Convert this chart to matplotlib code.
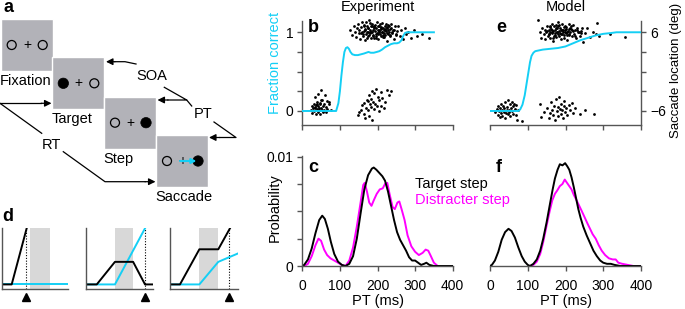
import numpy as np
import matplotlib
matplotlib.use('Agg')
import matplotlib.pyplot as plt
from matplotlib.patches import Rectangle, Circle

plt.rcParams['font.family'] = ['Liberation Sans', 'DejaVu Sans']

CYAN = '#14cff5'
MAGENTA = '#ff00ff'
SPINE = '#555555'
SQ_GRAY = '#b2b2b8'
FS = 10

# ---- data -------------------------------------------------------------
pt_ticks = [0, 100, 200, 300, 400]

# saccade end points (PT ms, saccade location deg), experiment
b_upper = [(128, 6.4), (133, 5.6), (137, 6.9), (140, 6.1), (143, 5.3), (146, 6.6), (148, 7.2), (150, 5.9),
           (152, 6.3), (154, 5.0), (156, 6.8), (158, 6.0), (160, 7.5), (161, 5.5), (163, 6.2), (165, 6.9),
           (166, 4.8), (168, 6.5), (170, 5.8), (171, 7.0), (173, 6.1), (174, 5.4), (176, 6.7), (177, 7.8),
           (179, 5.9), (180, 6.3), (182, 5.2), (183, 6.9), (185, 6.0), (186, 7.3), (187, 5.6), (189, 6.4),
           (190, 6.8), (191, 5.1), (193, 7.1), (194, 6.2), (195, 5.7), (197, 6.6), (198, 7.6), (199, 5.9),
           (201, 6.3), (202, 4.9), (204, 6.9), (205, 6.0), (206, 7.2), (208, 5.5), (209, 6.5), (211, 6.1),
           (212, 7.4), (214, 5.3), (215, 6.7), (217, 5.9), (218, 6.3), (220, 7.0), (221, 5.6), (223, 6.2),
           (224, 4.7), (226, 6.8), (228, 5.8), (229, 7.1), (231, 6.0), (233, 5.4), (235, 6.6), (237, 7.3),
           (239, 5.9), (241, 6.4), (243, 5.0), (246, 6.9), (249, 5.7), (252, 6.2), (255, 7.0), (259, 5.5),
           (263, 6.3), (268, 4.9), (272, 6.6), (277, 5.8), (282, 6.1), (288, 5.2), (296, 6.4), (305, 5.5),
           (318, 5.7), (336, 5.1), (162, 5.8), (167, 6.3), (172, 5.1), (175, 6.6), (178, 5.6), (181, 7.4),
           (184, 6.1), (188, 5.4), (192, 6.7), (196, 5.2), (200, 7.0), (203, 6.4), (207, 5.7), (210, 6.8),
           (213, 6.0), (216, 5.3), (219, 6.5), (222, 7.2), (225, 5.9), (227, 6.3), (230, 6.9), (234, 5.6),
           (238, 6.1), (170, 7.6), (185, 6.9), (195, 5.5), (205, 6.2), (215, 5.6), (225, 6.6), (180, 6.0),
           (190, 7.0), (200, 5.8), (210, 6.6), (220, 6.4), (165, 7.1), (175, 6.0), (245, 6.3), (250, 5.6),
           (157, 5.9), (232, 6.5)]
b_lower_left = [(22, -5.8), (25, -5.2), (27, -6.3), (29, -5.5), (30, -4.9), (32, -6.0), (33, -5.4), (35, -3.9),
                (36, -6.5), (37, -5.1), (38, -5.7), (40, -4.6), (41, -6.1), (42, -5.3), (43, -3.4), (45, -5.9),
                (46, -4.8), (47, -6.4), (48, -5.0), (50, -5.6), (51, -2.8), (52, -5.8), (53, -4.4), (55, -6.2),
                (56, -5.3), (57, -4.9), (58, -5.9), (60, -3.6), (62, -5.4), (63, -6.1), (65, -4.5), (67, -5.7),
                (70, -5.0), (72, -4.7), (75, -5.8), (44, -5.5), (39, -5.0), (49, -4.3), (54, -6.0), (34, -5.6)]
b_lower_mid = [(148, -6.6), (152, -6.2), (156, -5.8), (160, -5.1), (163, -6.4), (165, -4.8), (168, -7.0),
               (170, -5.5), (172, -4.3), (175, -5.9), (177, -3.6), (178, -6.7), (180, -5.0), (182, -4.1),
               (184, -5.4), (186, -2.9), (188, -4.6), (190, -5.7), (192, -3.3), (194, -4.9), (196, -2.6),
               (198, -5.2), (200, -3.8), (203, -4.4), (205, -6.0), (208, -3.1), (210, -5.3), (213, -4.0),
               (216, -5.6), (220, -4.7), (225, -2.8), (230, -3.5), (236, -3.0), (185, -7.3), (174, -4.5)]

# model
e_upper = [(128, 7.8), (132, 6.0), (136, 5.2), (139, 6.7), (142, 5.8), (145, 6.4), (147, 4.9), (149, 6.1),
           (151, 7.0), (153, 5.5), (155, 6.3), (157, 5.7), (158, 6.8), (160, 5.1), (162, 6.5), (163, 7.3),
           (165, 5.9), (166, 6.2), (168, 4.6), (169, 6.9), (171, 5.6), (172, 6.4), (174, 7.1), (175, 5.3),
           (177, 6.0), (178, 6.7), (180, 5.8), (181, 7.5), (183, 6.2), (184, 5.4), (186, 6.6), (187, 5.0),
           (189, 6.3), (190, 7.2), (192, 5.7), (193, 6.1), (195, 6.8), (196, 5.2), (198, 6.4), (199, 7.0),
           (201, 5.9), (202, 6.5), (204, 4.8), (206, 6.2), (208, 7.3), (210, 5.6), (212, 6.0), (214, 6.9),
           (216, 5.4), (218, 6.3), (220, 7.1), (222, 5.8), (225, 6.4), (228, 5.1), (231, 6.7), (234, 6.0),
           (238, 5.5), (242, 6.2), (247, 4.5), (252, 5.9), (258, 6.6), (265, 5.3), (272, 6.1), (280, 5.7),
           (288, 5.4), (318, 5.7), (358, 5.3), (283, 7.4), (150, 6.2), (155, 5.8), (160, 6.9), (165, 6.1),
           (170, 5.5), (175, 6.6), (180, 7.0), (185, 5.9), (190, 6.3), (195, 5.6), (200, 6.8), (205, 6.0),
           (210, 5.7), (215, 6.5), (220, 6.2), (225, 5.4), (163, 6.4), (173, 5.9), (183, 7.1), (193, 6.3),
           (203, 5.6), (213, 6.7), (178, 6.1), (188, 5.8), (198, 6.0), (208, 6.5), (168, 5.2), (158, 6.1),
           (230, 6.3), (240, 5.9), (245, 6.6), (236, 6.0)]
e_lower_left = [(14, -6.2), (18, -5.7), (20, -6.6), (22, -5.3), (24, -6.0), (26, -6.9), (27, -5.5), (29, -6.3),
                (30, -4.9), (32, -5.9), (33, -6.7), (35, -5.2), (36, -6.1), (38, -5.6), (39, -7.0), (41, -4.6),
                (42, -6.3), (44, -5.4), (45, -5.9), (47, -6.5), (48, -4.3), (50, -5.8), (51, -6.2), (53, -5.0),
                (54, -6.8), (56, -5.5), (57, -4.7), (59, -6.0), (61, -5.3), (62, -6.4), (64, -4.9), (66, -5.7),
                (68, -6.6), (70, -5.1), (72, -7.4), (75, -5.8), (84, -7.6)]
e_lower_mid = [(132, -5.0), (134, -6.9), (142, -6.2), (150, -5.5), (155, -7.1), (158, -6.3), (162, -4.7),
               (165, -5.9), (167, -6.6), (170, -5.2), (172, -7.3), (175, -4.2), (177, -6.0), (179, -5.4),
               (181, -6.8), (183, -3.8), (185, -5.7), (187, -6.4), (189, -4.9), (191, -5.9), (193, -7.0),
               (195, -5.3), (197, -4.5), (199, -6.2), (202, -5.6), (205, -6.6), (208, -5.1), (212, -5.9),
               (216, -4.8), (220, -6.3), (226, -5.5), (238, -6.5), (252, -5.8), (276, -6.4)]

# fraction correct vs PT
b_frac_pt = [0, 90, 96, 100, 104, 108, 112, 116, 120, 124, 128, 133, 140, 148, 156, 164, 170, 176, 182,
             190, 198, 205, 212, 220, 228, 236, 244, 252, 258, 264, 268, 273, 278, 350]
b_frac = [0, 0, 0.10, 0.25, 0.45, 0.62, 0.75, 0.80, 0.81, 0.79, 0.75, 0.72, 0.71, 0.71, 0.72, 0.73, 0.74,
          0.75, 0.74, 0.74, 0.75, 0.76, 0.78, 0.81, 0.83, 0.85, 0.86, 0.86, 0.87, 0.90, 0.95, 0.99, 1.0, 1.0]
e_frac_pt = [0, 75, 80, 86, 92, 97, 102, 106, 110, 115, 120, 140, 160, 180, 200, 220, 240, 260, 280, 300,
             320, 335, 400]
e_frac = [0, 0, 0.02, 0.08, 0.20, 0.35, 0.50, 0.62, 0.70, 0.74, 0.76, 0.78, 0.79, 0.80, 0.82, 0.86, 0.90,
          0.93, 0.96, 0.98, 0.99, 1.0, 1.0]

# PT distributions
c_target_pt = [0, 5, 15, 25, 35, 45, 53, 60, 68, 76, 85, 95, 105, 115, 125, 135, 145, 155, 165, 175, 185,
               190, 197, 205, 213, 220, 228, 236, 244, 252, 260, 268, 276, 284, 292, 300, 308, 316, 324,
               330, 338, 350, 400]
c_target = [0, 0.0001, 0.0006, 0.0016, 0.0030, 0.0042, 0.0046, 0.0043, 0.0034, 0.0022, 0.0011, 0.0004,
            0.0001, 0.0, 0.0002, 0.0009, 0.0025, 0.0048, 0.0070, 0.0083, 0.0089, 0.0090, 0.0088, 0.0085,
            0.0082, 0.0078, 0.0068, 0.0055, 0.0042, 0.0031, 0.0024, 0.0019, 0.0014, 0.0008, 0.0005, 0.0005,
            0.0003, 0.0001, 0.0002, 0.0003, 0.0001, 0.0, 0.0]
c_distr_pt = [5, 15, 25, 35, 43, 50, 58, 66, 75, 85, 95, 105, 115, 125, 135, 145, 155, 162, 166, 172, 178,
              184, 190, 198, 206, 214, 220, 226, 232, 240, 246, 253, 258, 264, 272, 280, 290, 300, 310, 320,
              328, 335, 342, 350, 360]
c_distr = [0, 0.0002, 0.0009, 0.0019, 0.0025, 0.0023, 0.0015, 0.0010, 0.0007, 0.0005, 0.0003, 0.0001, 0.0,
           0.0005, 0.0017, 0.0036, 0.0058, 0.0074, 0.0076, 0.0068, 0.0058, 0.0055, 0.0060, 0.0066, 0.0070,
           0.0071, 0.0075, 0.0076, 0.0066, 0.0054, 0.0052, 0.0058, 0.0059, 0.0052, 0.0042, 0.0028, 0.0018,
           0.0013, 0.0010, 0.0012, 0.0015, 0.0014, 0.0009, 0.0003, 0.0]
f_target_pt = [0, 5, 13, 22, 31, 40, 49, 57, 66, 75, 84, 92, 100, 106, 115, 124, 133, 141, 150, 159, 166,
               172, 179, 185, 192, 199, 205, 210, 216, 222, 228, 234, 240, 247, 256, 265, 274, 283, 292,
               300, 310, 320, 330, 345, 400]
f_target = [0, 0.0001, 0.0005, 0.0013, 0.0024, 0.0031, 0.0034, 0.0032, 0.0026, 0.0017, 0.0009, 0.0004,
            0.0001, 0.0, 0.0002, 0.0006, 0.0014, 0.0025, 0.0040, 0.0057, 0.0070, 0.0080, 0.0088, 0.0093,
            0.0092, 0.0094, 0.0091, 0.0088, 0.0081, 0.0072, 0.0062, 0.0052, 0.0044, 0.0036, 0.0028,
            0.0021, 0.0014, 0.0009, 0.0005, 0.0003, 0.0002, 0.0002, 0.0001, 0.0, 0.0]
f_distr_pt = [105, 115, 124, 133, 141, 150, 158, 165, 172, 178, 185, 192, 198, 204, 210, 216, 222, 228,
              235, 242, 250, 258, 265, 272, 280, 288, 296, 305, 315, 325, 333, 340, 350, 365, 380, 400]
f_distr = [0, 0.0001, 0.0004, 0.0011, 0.0022, 0.0037, 0.0050, 0.0060, 0.0066, 0.0069, 0.0073, 0.0075,
           0.0079, 0.0076, 0.0073, 0.0070, 0.0065, 0.0061, 0.0056, 0.0051, 0.0045, 0.0039, 0.0034, 0.0029,
           0.0025, 0.0019, 0.0014, 0.0010, 0.0007, 0.0006, 0.0006, 0.0003, 0.0002, 0.0001, 0.0, 0.0]

# panel d schematic traces (normalised time, normalised activity)
d_black = [([0, 0.15, 0.375], [0.08, 0.08, 1.0]),
           ([0, 0.16, 0.43, 0.70, 0.877, 1.0], [0.08, 0.08, 0.45, 0.45, 0.08, 0.08]),
           ([0, 0.146, 0.43, 0.707, 0.878], [0.08, 0.08, 0.656, 0.656, 1.0])]
d_cyan = [([0, 1.0], [0.08, 0.08]),
          ([0, 0.43, 0.877], [0.08, 0.08, 1.0]),
          ([0, 0.43, 0.707, 1.0], [0.08, 0.08, 0.45, 0.59])]
d_gray = [(0.425, 0.725), (0.43, 0.70), (0.43, 0.707)]
d_sacc = [0.365, 0.877, 0.868]

# ---- figure -------------------------------------------------------------
W, H = 685.0, 309.0
fig = plt.figure(figsize=(W / 100, H / 100), dpi=100)


def px_axes(x0, y0, x1, y1):
    return fig.add_axes([x0 / W, 1 - y1 / H, (x1 - x0) / W, (y1 - y0) / H])


def ftext(x, y, s, **kw):
    kw.setdefault('ha', 'center')
    kw.setdefault('va', 'center')
    kw.setdefault('fontsize', FS)
    fig.text(x / W, 1 - y / H, s, **kw)


def style(ax, left=True, right=False):
    for side in ['top', 'right', 'left', 'bottom']:
        ax.spines[side].set_visible(False)
    ax.spines['bottom'].set_visible(True)
    if left:
        ax.spines['left'].set_visible(True)
    if right:
        ax.spines['right'].set_visible(True)
    for sp in ax.spines.values():
        sp.set_color(SPINE)
        sp.set_linewidth(1)
    ax.tick_params(direction='out', length=3.5, width=1, color=SPINE, labelsize=FS)
    ax.tick_params(axis='x', pad=5.5)
    ax.tick_params(axis='y', pad=3)
    ax.patch.set_alpha(0)


# panel a: task schematic
ax_a = px_axes(0, 0, 240, 205)
ax_a.set_xlim(0, 240)
ax_a.set_ylim(205, 0)
ax_a.axis('off')

squares = [(0.7, 19, 'Fixation', 'none'), (52.3, 57.3, 'Target', 'left'),
           (104, 96.7, 'Step', 'right'), (156, 135, 'Saccade', 'right')]
for sx, sy, label, filled in squares:
    ax_a.add_patch(Rectangle((sx, sy), 52, 52, facecolor=SQ_GRAY, edgecolor='white', lw=1))
    cy = sy + 26
    for cx, side in [(sx + 11, 'left'), (sx + 42, 'right')]:
        if filled == side:
            ax_a.add_patch(Circle((cx, cy), 5.2, facecolor='k', edgecolor='k', lw=0.5))
        else:
            ax_a.add_patch(Circle((cx, cy), 4.5, facecolor='none', edgecolor='k', lw=0.9))
    ax_a.text(sx + 26.5, cy, '+', ha='center', va='center', fontsize=10)
    ax_a.text(sx - 0.5, sy + 62, label, ha='left', va='center', fontsize=10.5)

ax_a.annotate('', xy=(196.5, 161), xytext=(180, 161),
              arrowprops=dict(arrowstyle='-|>', color=CYAN, lw=1.5, mutation_scale=7, shrinkA=0, shrinkB=0))


def arrow(x0, y0, x1, y1):
    ax_a.annotate('', xy=(x1, y1), xytext=(x0, y0),
                  arrowprops=dict(arrowstyle='-|>', color='k', lw=0.9, mutation_scale=10,
                                  shrinkA=0, shrinkB=0))


lk = dict(color='k', lw=0.9)
# SOA
ax_a.plot([136, 125, 115], [64, 61.7, 61.7], **lk)
arrow(115, 61.7, 106, 61.7)
ax_a.plot([164.3, 186.7, 168], [87.3, 100, 100], **lk)
arrow(168, 100, 157.5, 100)
ax_a.text(151.7, 76, 'SOA', ha='center', va='center', fontsize=10.5)
# PT
ax_a.plot([191.7, 186.7], [106, 100], **lk)
ax_a.plot([214, 236, 220], [122, 137.5, 137.5], **lk)
arrow(220, 137.5, 209, 137.5)
ax_a.text(203.3, 114, 'PT', ha='center', va='center', fontsize=10.5)
# RT
ax_a.plot([0, 41], [103.3, 103.3], **lk)
arrow(41, 103.3, 51.5, 103.3)
ax_a.plot([0, 41.7], [103.3, 133.3], **lk)
ax_a.plot([63.3, 105, 145], [151.7, 181.7, 181.7], **lk)
arrow(145, 181.7, 155.5, 181.7)
ax_a.text(51.7, 145, 'RT', ha='center', va='center', fontsize=10.5)

# panel d
d_boxes = [(1.7, 68.3), (86, 153.3), (170, 238.3)]
for i, (x0, x1) in enumerate(d_boxes):
    ax = px_axes(x0, 228.3, x1, 289.3)
    style(ax)
    ax.set_xticks([])
    ax.set_yticks([])
    ax.set_xlim(0, 1)
    ax.set_ylim(0, 1)
    ax.axvspan(d_gray[i][0], d_gray[i][1], color='#d8d8d8', lw=0)
    ax.axvline(d_sacc[i], color='k', ls=(0, (1, 1.5)), lw=0.8)
    ax.plot(d_cyan[i][0], d_cyan[i][1], color=CYAN, lw=1.4)
    ax.plot(d_black[i][0], d_black[i][1], color='k', lw=1.4)
    ax.plot([d_sacc[i]], [-0.12], marker='^', ms=5.5, color='k', clip_on=False)

# panels b / e: saccade location and fraction correct
ylim_be = (-0.178, 1.147)
frac_ticks = [0, 0.25, 0.5, 0.75, 1.0]

ax_b = px_axes(302.3, 20.7, 452.7, 125)
style(ax_b)
for cl in [b_upper, b_lower_left, b_lower_mid]:
    pts = np.array(cl, dtype=float)
    ax_b.scatter(pts[:, 0], (pts[:, 1] + 6) / 12, s=4, c='k', lw=0, clip_on=False)
ax_b.plot(b_frac_pt, b_frac, color=CYAN, lw=1.4, zorder=3)
ax_b.set_xlim(0, 400)
ax_b.set_ylim(*ylim_be)
ax_b.set_xticks(pt_ticks)
ax_b.set_xticklabels([])
ax_b.set_yticks(frac_ticks)
ax_b.set_yticklabels(['0', '', '', '', '1'])

ax_e = px_axes(490, 20.7, 641, 125)
style(ax_e, left=False, right=True)
for cl in [e_upper, e_lower_left, e_lower_mid]:
    pts = np.array(cl, dtype=float)
    ax_e.scatter(pts[:, 0], (pts[:, 1] + 6) / 12, s=4, c='k', lw=0, clip_on=False)
ax_e.plot(e_frac_pt, e_frac, color=CYAN, lw=1.4, zorder=3)
ax_e.set_xlim(0, 400)
ax_e.set_ylim(*ylim_be)
ax_e.set_xticks(pt_ticks)
ax_e.set_xticklabels([])
ax_e.yaxis.tick_right()
ax_e.set_yticks(frac_ticks)
ax_e.set_yticklabels(['\u22126', '', '', '', '6'])

# panels c / f: PT distributions
prob_ticks = [0, 0.0025, 0.005, 0.0075, 0.01]
ax_c = px_axes(302.3, 155.5, 452.7, 266)
style(ax_c)
ax_c.plot(c_distr_pt, c_distr, color=MAGENTA, lw=1.4)
ax_c.plot(c_target_pt, c_target, color='k', lw=1.4)
ax_c.set_xlim(0, 400)
ax_c.set_ylim(0, 0.0101)
ax_c.set_xticks(pt_ticks)
ax_c.set_yticks(prob_ticks)
ax_c.set_yticklabels(['0', '', '', '', '0.01'])

ax_f = px_axes(490, 155.5, 641, 266)
style(ax_f, left=False)
ax_f.plot(f_distr_pt, f_distr, color=MAGENTA, lw=1.4)
ax_f.plot(f_target_pt, f_target, color='k', lw=1.4)
ax_f.set_xlim(0, 400)
ax_f.set_ylim(0, 0.0101)
ax_f.set_xticks(pt_ticks)
ax_f.set_yticks([])

# labels
ftext(3, 8, 'a', fontsize=13, fontweight='bold', ha='left')
ftext(2, 216.7, 'd', fontsize=13, fontweight='bold', ha='left')
ftext(308, 28, 'b', fontsize=13, fontweight='bold', ha='left')
ftext(308, 167, 'c', fontsize=13, fontweight='bold', ha='left')
ftext(496, 28, 'e', fontsize=13, fontweight='bold', ha='left')
ftext(496, 167, 'f', fontsize=13, fontweight='bold', ha='left')
ftext(378, 7, 'Experiment', fontsize=10.5)
ftext(566, 7, 'Model', fontsize=10.5)
ftext(275, 63, 'Fraction correct', rotation=90, color=CYAN, fontsize=10.5)
ftext(676, 70, 'Saccade location (deg)', rotation=90, fontsize=9.5)
ftext(274.3, 208, 'Probability', rotation=90, fontsize=10.5)
ftext(377.5, 301.5, 'PT (ms)', fontsize=10.5)
ftext(565.5, 301.5, 'PT (ms)', fontsize=10.5)
ftext(415, 184, 'Target step', ha='left', fontsize=10.5)
ftext(415, 200, 'Distracter step', ha='left', color=MAGENTA, fontsize=10.5)

fig.savefig('out.png', dpi=100)
